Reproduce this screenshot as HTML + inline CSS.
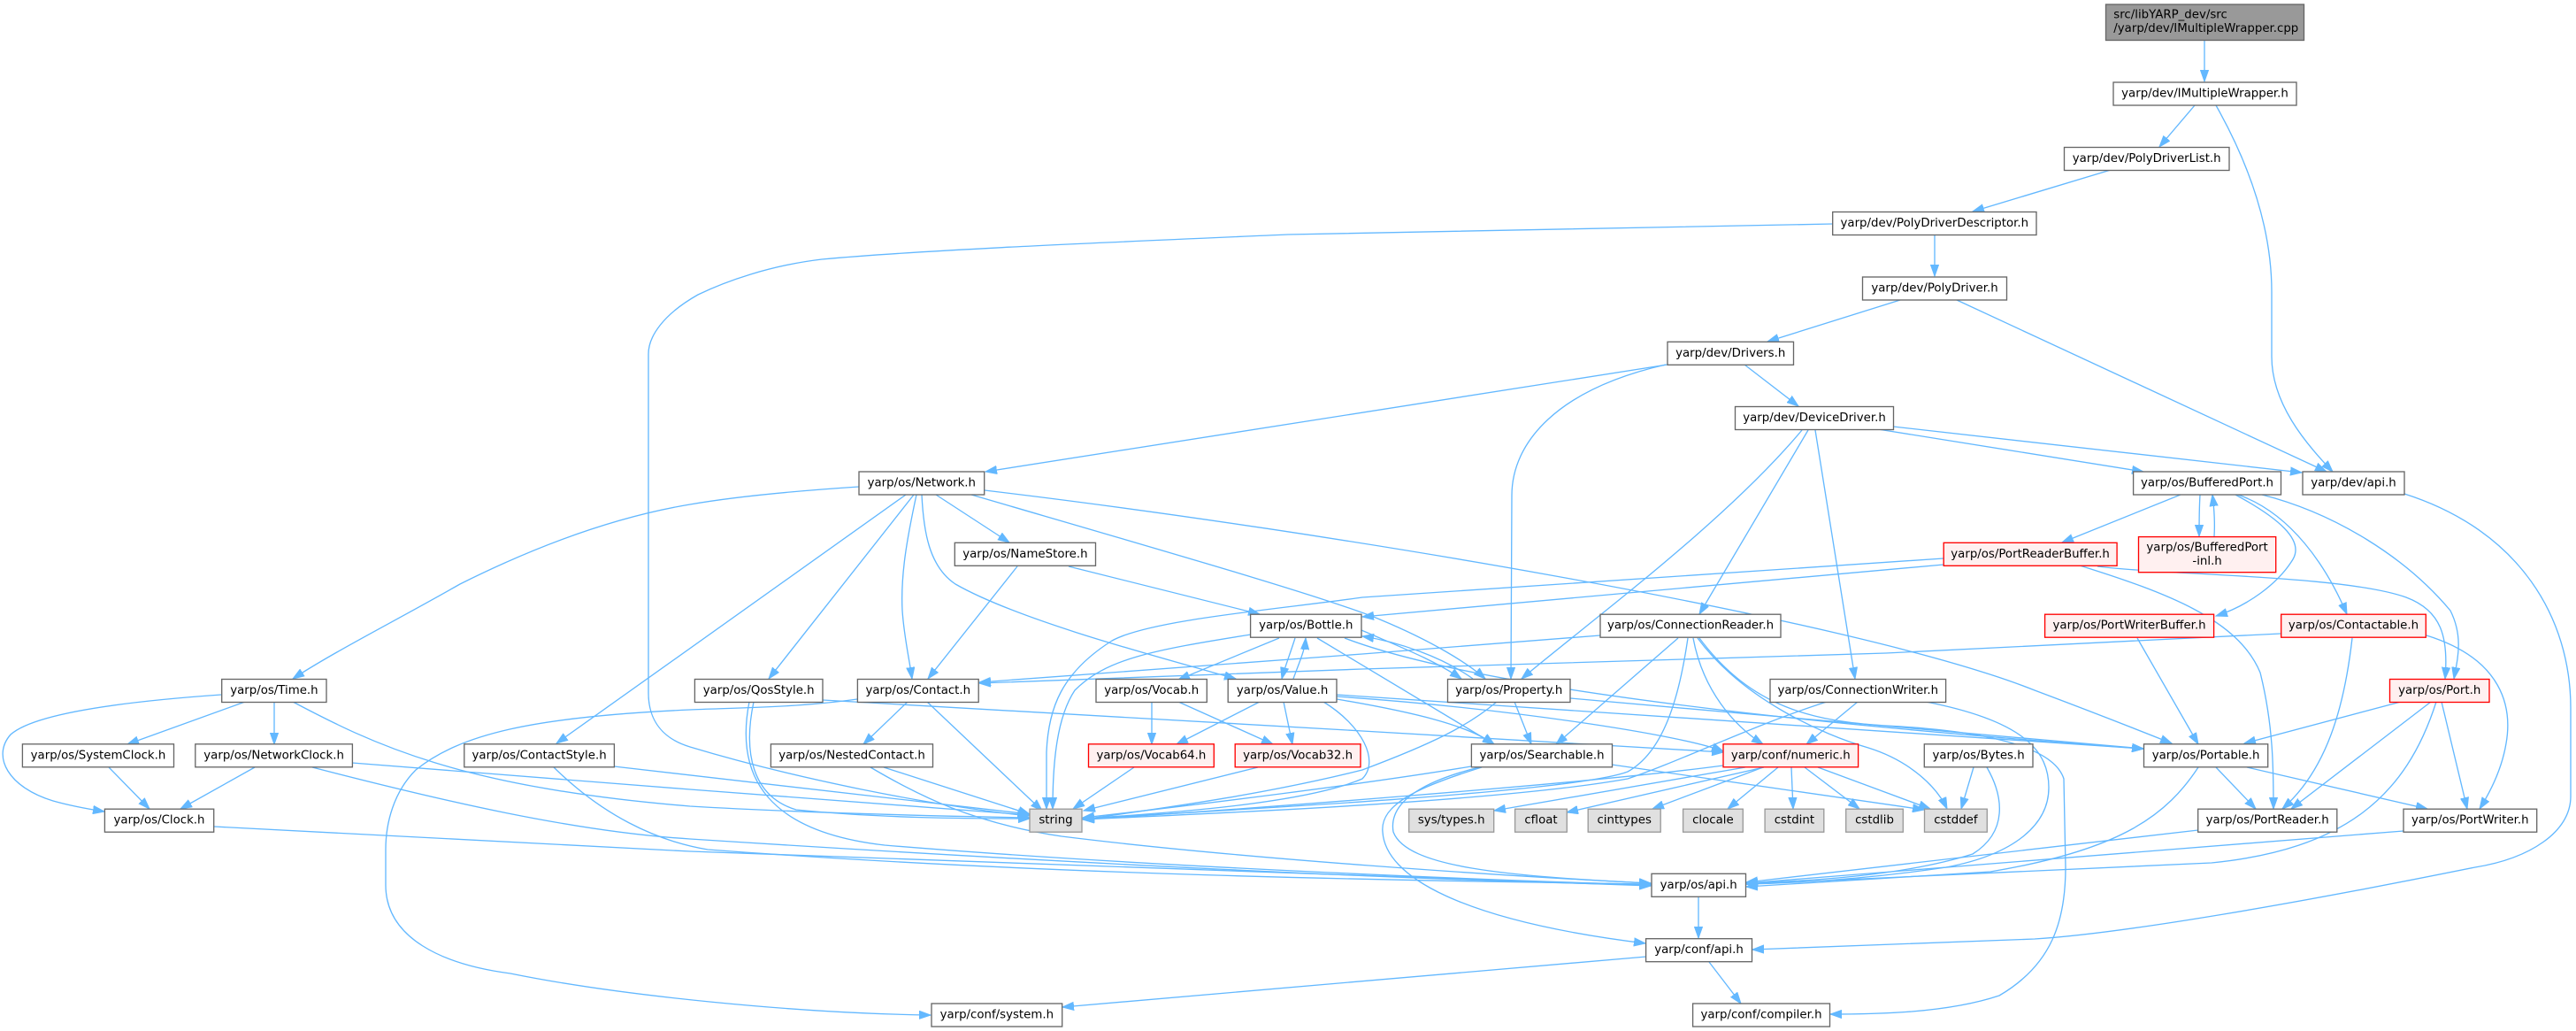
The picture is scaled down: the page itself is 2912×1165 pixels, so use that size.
<!DOCTYPE html>
<html><head><meta charset="utf-8"><style>
html,body{margin:0;padding:0;background:#fff;}
svg{display:block;}
text{font-family:"DejaVu Sans","Liberation Sans",sans-serif;font-size:13.33px;fill:#000;}
.e{fill:none;stroke:#63b8ff;stroke-width:1.33;marker-end:url(#ah);}
.n{fill:#fff;stroke:#666;stroke-width:1.33;}
.r{fill:#fff0f0;stroke:#ff0000;stroke-width:1.33;}
.g{fill:#e0e0e0;stroke:#999;stroke-width:1.33;}
</style></head><body>
<svg width="2912" height="1165" viewBox="0 0 2912 1165" xmlns="http://www.w3.org/2000/svg">
<defs>
<marker id="ah" markerUnits="userSpaceOnUse" markerWidth="14" markerHeight="10" refX="13" refY="5" orient="auto">
<path d="M0,0.4 L13,5 L0,9.6 z" fill="#63b8ff" stroke="#63b8ff" stroke-width="1"/>
</marker>
</defs>
<rect width="2912" height="1165" fill="#fff"/>
<g>
<path class="e" d="M2492,46 L2492,92"/>
<path class="e" d="M2481,119 L2441,166"/>
<path class="e" d="M2505,119 C2545,190 2568,260 2568,330 L2568,403 C2568,455 2605,500 2637,533"/>
<path class="e" d="M2386,192 L2230,239"/>
<path class="e" d="M2187,265 L2187,312"/>
<path class="e" d="M2072,253 L1456,265 C1250,274 1050,282 929,293 C870,300 820,318 789,333 C750,355 733,380 733,400 L733,783 C733,815 750,835 780,844 C900,880 1050,910 1163,922"/>
<path class="e" d="M2148,339 L1998,386"/>
<path class="e" d="M2212,339 L2630,533"/>
<path class="e" d="M1885,412 L1114,533"/>
<path class="e" d="M1972,412 L2033,459"/>
<path class="e" d="M1883,412 C1760,440 1709,500 1709,560 L1708,767"/>
<path class="e" d="M2123,485 L2423,533"/>
<path class="e" d="M2140,482 L2602,534"/>
<path class="e" d="M2037,486 C1950,590 1800,700 1720,767"/>
<path class="e" d="M2044,486 L1921,694"/>
<path class="e" d="M2052,486 L2097,767"/>
<path class="e" d="M971,550 C880,556 820,563 780,570 C690,585 600,620 520,660 C450,700 380,735 331,767"/>
<path class="e" d="M1033,559 L869,767"/>
<path class="e" d="M1024,559 L629,840"/>
<path class="e" d="M1036,559 C1025,610 1018,650 1020,690 C1022,720 1028,745 1031,767"/>
<path class="e" d="M1042,559 C1044,600 1050,640 1080,660 C1150,700 1300,740 1397,767"/>
<path class="e" d="M1058,559 L1141,613"/>
<path class="e" d="M1098,559 C1300,618 1500,675 1560,700 C1620,725 1660,750 1679,767"/>
<path class="e" d="M1113,554 C1500,600 2100,700 2300,780 C2380,810 2430,830 2455,840"/>
<path class="e" d="M1150,640 L1049,767"/>
<path class="e" d="M1208,640 L1424,694"/>
<path class="e" d="M2197,631 L1540,675 C1450,688 1300,700 1257,724 C1200,760 1185,800 1183,850 L1183,914"/>
<path class="e" d="M2197,638 L1540,697"/>
<path class="e" d="M2351,639 C2450,670 2530,700 2555,760 C2570,820 2570,870 2570,914"/>
<path class="e" d="M2371,640 C2450,650 2650,650 2720,675 C2760,690 2768,720 2764,767"/>
<path class="e" d="M2465,559 L2331,613"/>
<path class="e" d="M2487,559 C2486,575 2486,590 2486,606"/>
<path class="e" d="M2503,606 C2504,590 2503,575 2501,559"/>
<path class="e" d="M2527,559 C2575,585 2605,610 2592,632 C2575,660 2540,685 2505,696"/>
<path class="e" d="M2530,559 C2590,580 2630,640 2653,694"/>
<path class="e" d="M2557,559 C2640,580 2720,630 2770,690 C2785,720 2778,745 2774,767"/>
<path class="e" d="M2718,558 C2850,600 2906,700 2906,800 L2906,900 C2906,940 2860,970 2798,980 C2600,1020 2400,1055 2300,1061 L1981,1073"/>
<path class="e" d="M2578,716 L2132,738 L1540,756 L1107,772"/>
<path class="e" d="M2659,721 C2650,800 2630,870 2580,914"/>
<path class="e" d="M2743,718 C2830,745 2840,800 2833,840 C2828,870 2815,895 2803,914"/>
<path class="e" d="M2416,721 L2485,841"/>
<path class="e" d="M1809,718 L1540,739 L1107,771"/>
<path class="e" d="M1897,721 L1759,841"/>
<path class="e" d="M1908,721 C1898,790 1880,850 1840,872 C1780,895 1400,915 1224,925"/>
<path class="e" d="M1914,721 C1925,780 1960,820 1993,841"/>
<path class="e" d="M1919,721 C1970,790 2060,830 2112,845 C2160,860 2190,890 2201,914"/>
<path class="e" d="M1921,721 C1980,800 2050,815 2132,820 C2230,825 2320,840 2333,880 L2335,980 C2335,1040 2320,1090 2260,1125 C2200,1145 2120,1146 2069,1146"/>
<path class="e" d="M2100,793 L2042,841"/>
<path class="e" d="M2065,793 C1980,820 1900,860 1840,880 C1700,905 1400,918 1224,926"/>
<path class="e" d="M2177,793 C2290,815 2316,850 2316,890 C2316,930 2280,965 2200,980 C2100,995 2020,998 1974,999"/>
<path class="e" d="M2231,867 L2217,914"/>
<path class="e" d="M2246,867 C2265,900 2270,940 2230,965 C2150,990 2050,995 1974,998"/>
<path class="e" d="M2505,867 L2550,914"/>
<path class="e" d="M2540,867 L2744,914"/>
<path class="e" d="M2485,867 C2450,920 2400,960 2250,985 C2100,995 2020,1000 1974,1002"/>
<path class="e" d="M2485,938 L1974,997"/>
<path class="e" d="M2717,939 L1974,998"/>
<path class="e" d="M2714,793 L2537,840"/>
<path class="e" d="M2748,793 L2590,914"/>
<path class="e" d="M2760,793 L2789,914"/>
<path class="e" d="M2754,793 C2720,900 2650,960 2500,975 L1974,999"/>
<path class="e" d="M1920,1013 L1920,1060"/>
<path class="e" d="M1861,1081 L1201,1138"/>
<path class="e" d="M1932,1087 L1968,1134"/>
<path class="e" d="M1973,867 L1689,916"/>
<path class="e" d="M1994,867 L1771,918"/>
<path class="e" d="M1993,867 L1868,914"/>
<path class="e" d="M2010,867 L1953,914"/>
<path class="e" d="M2025,867 L2027,914"/>
<path class="e" d="M2040,867 L2102,914"/>
<path class="e" d="M2055,867 L2182,914"/>
<path class="e" d="M1948,865 C1800,885 1400,915 1224,926"/>
<path class="e" d="M1822,864 L2175,915"/>
<path class="e" d="M1663,866 C1550,885 1350,910 1224,924"/>
<path class="e" d="M1672,867 C1600,885 1570,910 1575,940 C1590,980 1700,990 1866,998"/>
<path class="e" d="M1675,867 C1600,890 1560,910 1563,940 C1566,990 1650,1040 1860,1066"/>
<path class="e" d="M1712,793 L1731,841"/>
<path class="e" d="M1692,793 C1660,820 1620,840 1540,870 C1420,900 1300,915 1224,926"/>
<path class="e" d="M1665,767 C1630,742 1580,725 1540,719"/>
<path class="e" d="M1775,789 L2423,846"/>
<path class="e" d="M1539,712 C1580,730 1620,745 1652,767"/>
<path class="e" d="M1424,793 L1330,841"/>
<path class="e" d="M1451,793 L1461,841"/>
<path class="e" d="M1462,767 C1470,745 1475,735 1476,721"/>
<path class="e" d="M1464,721 C1458,740 1452,755 1449,767"/>
<path class="e" d="M1496,793 C1540,820 1560,860 1540,880 C1470,910 1300,920 1224,925"/>
<path class="e" d="M1511,790 C1600,805 1660,820 1689,841"/>
<path class="e" d="M1511,787 C1700,800 1900,830 1948,849"/>
<path class="e" d="M1511,785 L2423,846"/>
<path class="e" d="M1489,721 L1689,841"/>
<path class="e" d="M1520,721 C1700,790 2200,830 2423,846"/>
<path class="e" d="M1446,721 L1332,768"/>
<path class="e" d="M1414,717 C1300,735 1250,745 1215,780 C1195,810 1190,860 1190,914"/>
<path class="e" d="M1026,793 L976,841"/>
<path class="e" d="M1048,793 L1178,916"/>
<path class="e" d="M969,790 C900,800 820,800 780,802 C600,810 520,830 470,870 C445,895 436,930 436,960 L436,1000 C436,1060 500,1090 577,1100 C700,1125 900,1145 1052,1147"/>
<path class="e" d="M999,867 L1164,920"/>
<path class="e" d="M984,867 C1040,900 1100,930 1200,945 C1400,970 1700,990 1866,998"/>
<path class="e" d="M852,793 C840,850 850,900 900,915 C1000,925 1100,925 1164,925"/>
<path class="e" d="M847,793 C830,880 870,940 1000,955 C1300,980 1700,995 1866,1000"/>
<path class="e" d="M930,791 L1540,826 L1948,850"/>
<path class="e" d="M694,866 L1164,920"/>
<path class="e" d="M626,867 C680,920 740,950 800,960 C1200,990 1600,995 1866,999"/>
<path class="e" d="M277,793 L144,841"/>
<path class="e" d="M310,793 L310,841"/>
<path class="e" d="M250,785 C150,792 40,805 12,830 C-10,855 10,890 60,905 C85,912 105,915 118,917"/>
<path class="e" d="M331,793 C420,840 520,890 780,911 C900,918 1050,922 1164,924"/>
<path class="e" d="M123,867 L169,914"/>
<path class="e" d="M288,867 L204,914"/>
<path class="e" d="M398,862 L780,892 L1164,921"/>
<path class="e" d="M353,867 C500,905 650,940 780,948 C1200,975 1600,995 1866,1000"/>
<path class="e" d="M242,934 L780,962 L1866,1001"/>
<path class="e" d="M1302,793 L1302,841"/>
<path class="e" d="M1332,793 L1439,841"/>
<path class="e" d="M1282,867 L1213,914"/>
<path class="e" d="M1422,867 L1225,916"/>
</g>
<g>
<!-- root -->
<rect x="2380.5" y="5" width="224" height="40.5" fill="#999999" stroke="#666" stroke-width="1.33"/>
<text x="2389.3" y="20.3">src/libYARP_dev/src</text>
<text x="2389.3" y="35.9">/yarp/dev/IMultipleWrapper.cpp</text>

<rect class="n" x="2389" y="93" width="207" height="26"/><text x="2492.5" y="109.5" text-anchor="middle">yarp/dev/IMultipleWrapper.h</text>
<rect class="n" x="2333.5" y="166.5" width="186.5" height="26"/><text x="2426.7" y="183" text-anchor="middle">yarp/dev/PolyDriverList.h</text>
<rect class="n" x="2071.7" y="239.5" width="230.3" height="26"/><text x="2186.8" y="256" text-anchor="middle">yarp/dev/PolyDriverDescriptor.h</text>
<rect class="n" x="2105.5" y="313" width="163" height="26"/><text x="2187" y="329.5" text-anchor="middle">yarp/dev/PolyDriver.h</text>
<rect class="n" x="1885" y="386.3" width="142.5" height="26"/><text x="1956.2" y="402.8" text-anchor="middle">yarp/dev/Drivers.h</text>
<rect class="n" x="1961.5" y="459.5" width="179" height="26"/><text x="2051" y="476" text-anchor="middle">yarp/dev/DeviceDriver.h</text>
<rect class="n" x="971" y="533" width="141.7" height="26"/><text x="1041.8" y="549.5" text-anchor="middle">yarp/os/Network.h</text>
<rect class="n" x="2411.6" y="533" width="166.9" height="26"/><text x="2495" y="549.5" text-anchor="middle">yarp/os/BufferedPort.h</text>
<rect class="n" x="2603" y="533" width="115" height="26"/><text x="2660.5" y="549.5" text-anchor="middle">yarp/dev/api.h</text>
<rect class="n" x="1079.3" y="613.3" width="159.2" height="26"/><text x="1158.9" y="629.8" text-anchor="middle">yarp/os/NameStore.h</text>
<rect class="r" x="2197.2" y="613.3" width="195.9" height="26"/><text x="2295.1" y="629.8" text-anchor="middle">yarp/os/PortReaderBuffer.h</text>
<rect class="r" x="2417.5" y="606.6" width="155.2" height="40.1"/><text x="2495.1" y="622.3" text-anchor="middle">yarp/os/BufferedPort</text><text x="2495.1" y="637.9" text-anchor="middle">-inl.h</text>
<rect class="n" x="1413.6" y="694.2" width="125.4" height="26"/><text x="1476.3" y="710.7" text-anchor="middle">yarp/os/Bottle.h</text>
<rect class="n" x="1809" y="694.2" width="204" height="26"/><text x="1911" y="710.7" text-anchor="middle">yarp/os/ConnectionReader.h</text>
<rect class="r" x="2311.6" y="694.2" width="191" height="26"/><text x="2407.1" y="710.7" text-anchor="middle">yarp/os/PortWriterBuffer.h</text>
<rect class="r" x="2578.7" y="694.2" width="163.6" height="26"/><text x="2660.5" y="710.7" text-anchor="middle">yarp/os/Contactable.h</text>
<rect class="n" x="250.7" y="767.5" width="118.3" height="26"/><text x="309.9" y="784" text-anchor="middle">yarp/os/Time.h</text>
<rect class="n" x="785.4" y="767.5" width="144.6" height="26"/><text x="857.7" y="784" text-anchor="middle">yarp/os/QosStyle.h</text>
<rect class="n" x="969.4" y="767.5" width="136.8" height="26"/><text x="1037.8" y="784" text-anchor="middle">yarp/os/Contact.h</text>
<rect class="n" x="1239" y="767.5" width="125.3" height="26"/><text x="1301.7" y="784" text-anchor="middle">yarp/os/Vocab.h</text>
<rect class="n" x="1388.2" y="767.5" width="122.8" height="26"/><text x="1449.6" y="784" text-anchor="middle">yarp/os/Value.h</text>
<rect class="n" x="1636.5" y="767.5" width="138.5" height="26"/><text x="1705.7" y="784" text-anchor="middle">yarp/os/Property.h</text>
<rect class="n" x="2001" y="767.5" width="198.6" height="26"/><text x="2100.3" y="784" text-anchor="middle">yarp/os/ConnectionWriter.h</text>
<rect class="r" x="2701.5" y="767.5" width="112.5" height="26"/><text x="2757.7" y="784" text-anchor="middle">yarp/os/Port.h</text>
<rect class="n" x="25.4" y="840.8" width="171.1" height="26"/><text x="111" y="857.3" text-anchor="middle">yarp/os/SystemClock.h</text>
<rect class="n" x="220.8" y="840.8" width="177.6" height="26"/><text x="309.6" y="857.3" text-anchor="middle">yarp/os/NetworkClock.h</text>
<rect class="n" x="524.8" y="840.8" width="169.6" height="26"/><text x="609.6" y="857.3" text-anchor="middle">yarp/os/ContactStyle.h</text>
<rect class="n" x="871.4" y="840.8" width="183.1" height="26"/><text x="963" y="857.3" text-anchor="middle">yarp/os/NestedContact.h</text>
<rect class="r" x="1230.5" y="840.8" width="141.8" height="26"/><text x="1301.4" y="857.3" text-anchor="middle">yarp/os/Vocab64.h</text>
<rect class="r" x="1396.2" y="840.8" width="141.8" height="26"/><text x="1467.1" y="857.3" text-anchor="middle">yarp/os/Vocab32.h</text>
<rect class="n" x="1663.4" y="840.8" width="159.1" height="26"/><text x="1743" y="857.3" text-anchor="middle">yarp/os/Searchable.h</text>
<rect class="r" x="1948" y="840.8" width="152.6" height="26"/><text x="2024.3" y="857.3" text-anchor="middle">yarp/conf/numeric.h</text>
<rect class="n" x="2175.3" y="840.8" width="122.7" height="26"/><text x="2236.6" y="857.3" text-anchor="middle">yarp/os/Bytes.h</text>
<rect class="n" x="2423.5" y="840.8" width="140.2" height="26"/><text x="2493.6" y="857.3" text-anchor="middle">yarp/os/Portable.h</text>
<rect class="n" x="118.4" y="914.2" width="123.3" height="26"/><text x="180" y="930.7" text-anchor="middle">yarp/os/Clock.h</text>
<rect class="g" x="1164" y="914.2" width="59" height="26"/><text x="1193.5" y="930.7" text-anchor="middle">string</text>
<rect class="g" x="1592.7" y="914.2" width="96" height="26"/><text x="1640.7" y="930.7" text-anchor="middle">sys/types.h</text>
<rect class="g" x="1712.6" y="914.2" width="58.7" height="26"/><text x="1742" y="930.7" text-anchor="middle">cfloat</text>
<rect class="g" x="1795.2" y="914.2" width="82" height="26"/><text x="1836.2" y="930.7" text-anchor="middle">cinttypes</text>
<rect class="g" x="1902.6" y="914.2" width="67.7" height="26"/><text x="1936.4" y="930.7" text-anchor="middle">clocale</text>
<rect class="g" x="1995.1" y="914.2" width="66.7" height="26"/><text x="2028.4" y="930.7" text-anchor="middle">cstdint</text>
<rect class="g" x="2086.7" y="914.2" width="64.6" height="26"/><text x="2119" y="930.7" text-anchor="middle">cstdlib</text>
<rect class="g" x="2175.5" y="914.2" width="70.8" height="26"/><text x="2210.9" y="930.7" text-anchor="middle">cstddef</text>
<rect class="n" x="2484.7" y="914.2" width="157.1" height="26"/><text x="2563.2" y="930.7" text-anchor="middle">yarp/os/PortReader.h</text>
<rect class="n" x="2717" y="914.2" width="150.7" height="26"/><text x="2792.3" y="930.7" text-anchor="middle">yarp/os/PortWriter.h</text>
<rect class="n" x="1867" y="987.3" width="106.5" height="26"/><text x="1920.2" y="1003.8" text-anchor="middle">yarp/os/api.h</text>
<rect class="n" x="1860.6" y="1060.7" width="119.9" height="26"/><text x="1920.5" y="1077.2" text-anchor="middle">yarp/conf/api.h</text>
<rect class="n" x="1053" y="1134" width="147.7" height="26"/><text x="1126.8" y="1150.5" text-anchor="middle">yarp/conf/system.h</text>
<rect class="n" x="1913.6" y="1134" width="154.9" height="26"/><text x="1991" y="1150.5" text-anchor="middle">yarp/conf/compiler.h</text>
</g>
</svg>
</body></html>
